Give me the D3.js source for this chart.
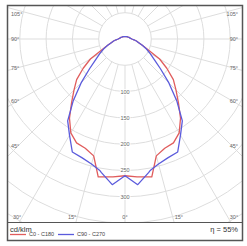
<!DOCTYPE html>
<html>
<head>
<meta charset="utf-8">
<script src="https://cdn.jsdelivr.net/npm/d3@7"></script>
<style>
  body { margin: 0; background: #fff; }
  text { font-family: "Liberation Sans", Arial, sans-serif; }
</style>
</head>
<body>
<div id="chart"></div>
<script>
// Gamma angles (deg, 0 = straight down) and intensity in cd/klm
var gammaAngles = [0, 5, 10, 11, 15, 20, 25, 30, 35, 40, 45, 50, 55, 60, 65, 70, 75, 80, 85, 90, 100, 110, 120, 135, 150, 165, 180];
var c0c180 =      [260, 263, 266, 267, 230, 221, 218, 206, 184, 158, 137, 120, 97, 76, 49, 35, 27, 22, 17, 13, 10, 8.5, 7, 6, 5, 4.5, 4.4];
var c90c270 =     [260, 278, 258, 254, 246, 240, 237, 211, 190, 153, 118, 88, 68, 55, 45, 35, 27, 22, 17, 13, 10, 8.5, 7, 6, 5, 4.5, 4.4];

var ringValues = [50, 100, 150, 200, 250, 300, 350, 400, 450];
var ringLabels = [100, 150, 200, 250, 300];
var spokeAngles = d3.range(0, 360, 15);
var sideAngleLabels = [105, 90, 75, 60, 45];
var bottomAngleLabels = [30, 15, 0];
var seriesNames = ["C0 - C180", "C90 - C270"];
var seriesColors = ["#e05c5c", "#5b5bdc"];
var unitLabel = "cd/klm";
var efficiencyLabel = "η = 55%";

const width = 247;
const height = 246;
const frame = {left: 7.5, top: 5.5, right: 242.5, bottom: 240.5, split: 222.5};
const cx = 125, cy = 39;

let svg = d3.select("#chart")
    .append("svg")
    .attr("width", width)
    .attr("height", height);

// radius scale: 50 cd/klm per ring
let rScale = d3.scaleLinear().domain([0, 50]).range([0, 26.3]);

svg.append("clipPath")
    .attr("id", "plotClip")
    .append("rect")
    .attr("x", frame.left)
    .attr("y", frame.top)
    .attr("width", frame.right - frame.left)
    .attr("height", frame.split - frame.top);

// clip on an untransformed group, then translate inside it
let grid = svg.append("g")
    .attr("clip-path", "url(#plotClip)")
    .append("g")
    .attr("transform", `translate(${cx},${cy})`);

// rings
grid.selectAll("circle")
    .data(ringValues)
    .enter()
    .append("circle")
    .attr("r", d => rScale(d))
    .attr("fill", "none")
    .attr("stroke", "#dddddd")
    .attr("stroke-width", 1);

// spokes, starting at the inner ring
grid.selectAll("line")
    .data(spokeAngles)
    .enter()
    .append("line")
    .attr("x1", d => rScale(50) * Math.sin(d * Math.PI / 180))
    .attr("y1", d => rScale(50) * Math.cos(d * Math.PI / 180))
    .attr("x2", d => rScale(500) * Math.sin(d * Math.PI / 180))
    .attr("y2", d => rScale(500) * Math.cos(d * Math.PI / 180))
    .attr("stroke", "#dddddd")
    .attr("stroke-width", 1);

// radial value labels on the 0° axis
grid.selectAll("text.ring")
    .data(ringLabels)
    .enter()
    .append("text")
    .attr("class", "ring")
    .attr("x", 0)
    .attr("y", d => rScale(d))
    .attr("dy", "0.35em")
    .attr("text-anchor", "middle")
    .attr("font-size", 5.5)
    .attr("fill", "#666")
    .attr("stroke", "#fff")
    .attr("stroke-width", 2)
    .attr("paint-order", "stroke")
    .text(d => d);

// curves: left half uses angle PI + gamma, right half PI - gamma
let toRad = d => d * Math.PI / 180;
let buildPoints = (values) => {
    let pts = [];
    for (let i = gammaAngles.length - 1; i >= 0; i--) {
        pts.push([Math.PI + toRad(gammaAngles[i]), rScale(values[i])]);
    }
    for (let i = 1; i < gammaAngles.length; i++) {
        pts.push([Math.PI - toRad(gammaAngles[i]), rScale(values[i])]);
    }
    return pts;
};

let radialLine = d3.lineRadial()
    .angle(d => d[0])
    .radius(d => d[1]);

let curves = svg.append("g")
    .attr("transform", `translate(${cx},${cy})`);

[c0c180, c90c270].forEach((vals, i) => {
    curves.append("path")
        .attr("d", radialLine(buildPoints(vals)))
        .attr("fill", "none")
        .attr("stroke", seriesColors[i])
        .attr("stroke-width", 1.3)
        .attr("stroke-linejoin", "round");
});

// angle labels on the sides
let labelG = svg.append("g")
    .attr("font-size", 5.5)
    .attr("fill", "#666");

sideAngleLabels.forEach(a => {
    let y = cy + (cx - 18) / Math.tan(toRad(a));
    if (a === 90) y = cy;
    y = Math.max(y, 14);
    labelG.append("text")
        .attr("x", 11)
        .attr("y", y)
        .attr("dy", "0.35em")
        .text(a + "°");
    labelG.append("text")
        .attr("x", 238)
        .attr("y", y)
        .attr("dy", "0.35em")
        .attr("text-anchor", "end")
        .text(a + "°");
});

// angle labels along the bottom
bottomAngleLabels.forEach(a => {
    let dx = (217 - cy) * Math.tan(toRad(a));
    if (a === 0) {
        labelG.append("text")
            .attr("x", cx)
            .attr("y", 217.5)
            .attr("dy", "0.35em")
            .attr("text-anchor", "middle")
            .text(a + "°");
        return;
    }
    labelG.append("text")
        .attr("x", cx - dx - 1)
        .attr("y", 217.5)
        .attr("dy", "0.35em")
        .attr("text-anchor", "end")
        .text(a + "°");
    labelG.append("text")
        .attr("x", cx + dx + 2)
        .attr("y", 217.5)
        .attr("dy", "0.35em")
        .text(a + "°");
});

// frame and legend separator
svg.append("rect")
    .attr("x", frame.left)
    .attr("y", frame.top)
    .attr("width", frame.right - frame.left)
    .attr("height", frame.bottom - frame.top)
    .attr("fill", "none")
    .attr("stroke", "#555")
    .attr("stroke-width", 1.5);

svg.append("line")
    .attr("x1", frame.left)
    .attr("x2", frame.right)
    .attr("y1", frame.split)
    .attr("y2", frame.split)
    .attr("stroke", "#555")
    .attr("stroke-width", 1.2);

// legend
svg.append("text")
    .attr("x", 10)
    .attr("y", 229)
    .attr("dy", "0.35em")
    .attr("font-size", 7.5)
    .attr("fill", "#333")
    .text(unitLabel);

svg.append("text")
    .attr("x", 238)
    .attr("y", 229)
    .attr("dy", "0.35em")
    .attr("font-size", 7.5)
    .attr("fill", "#333")
    .attr("text-anchor", "end")
    .text(efficiencyLabel);

let legendX = [10, 58];
seriesNames.forEach((name, i) => {
    svg.append("line")
        .attr("x1", legendX[i])
        .attr("x2", legendX[i] + 16)
        .attr("y1", 234.5)
        .attr("y2", 234.5)
        .attr("stroke", seriesColors[i])
        .attr("stroke-width", 1.3);
    svg.append("text")
        .attr("x", legendX[i] + 19)
        .attr("y", 234.5)
        .attr("dy", "0.35em")
        .attr("font-size", 5.5)
        .attr("fill", "#444")
        .text(name);
});
</script>
</body>
</html>
